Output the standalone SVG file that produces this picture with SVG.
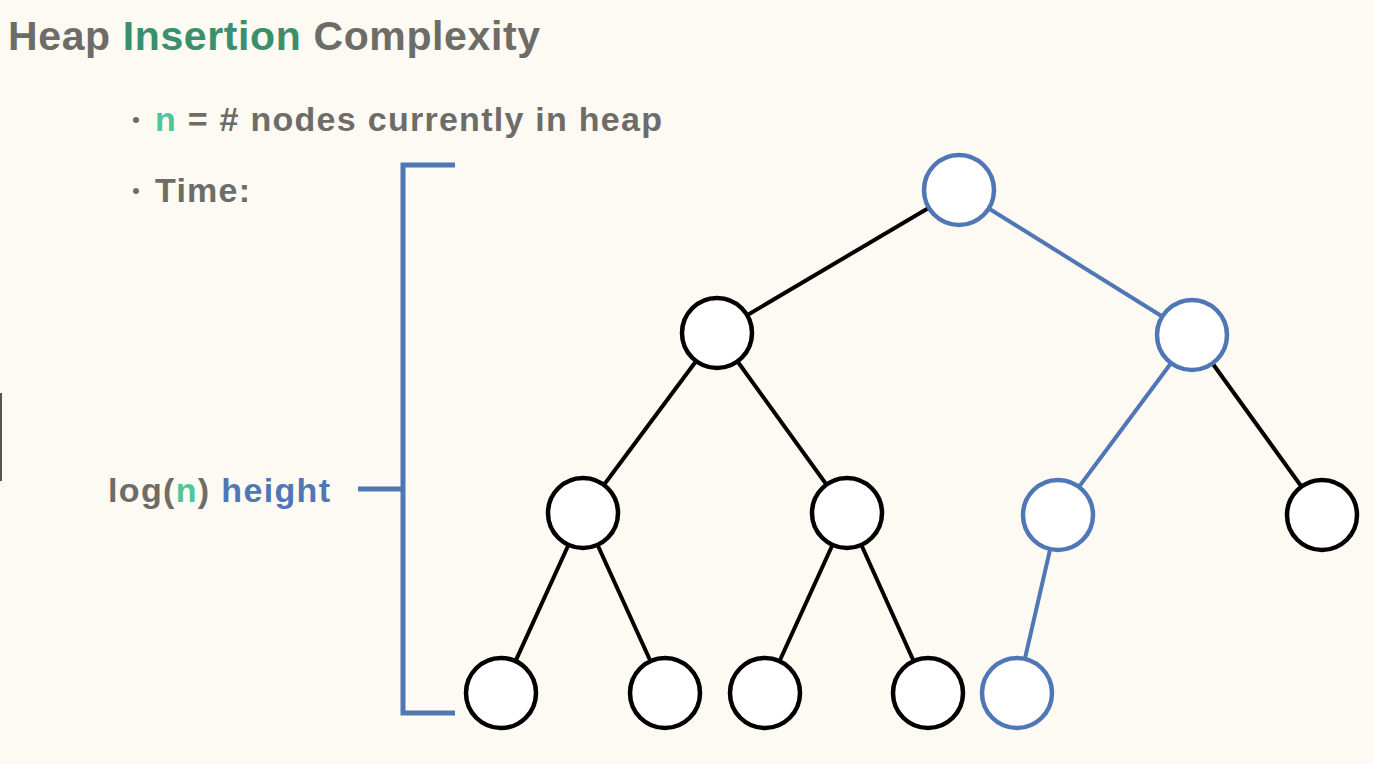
<svg xmlns="http://www.w3.org/2000/svg" width="1374" height="764" viewBox="0 0 1374 764">
<style>
.t{font-family:"Liberation Sans",Arial,sans-serif;font-weight:bold;fill:#6d6c67}
.g{fill:#3a8f6c}.lg{fill:#52c49a}.b{fill:#4f76b5}
.n{fill:#ffffff;stroke:#000;stroke-width:4.5}
.nb{fill:#ffffff;stroke:#4f76b5;stroke-width:4.5}
.e{stroke:#000;stroke-width:4;fill:none}
.eb{stroke:#4f76b5;stroke-width:4;fill:none}
</style>
<rect width="1374" height="764" fill="#fdf9f3"/>
<rect x="0" y="393" width="2" height="88" fill="#555"/>
<text class="t" x="8" y="50" font-size="41" textLength="532" lengthAdjust="spacing">Heap <tspan class="g">Insertion</tspan> Complexity</text>
<circle cx="136" cy="120" r="3" fill="#6d6c67"/>
<text class="t" x="155" y="131" font-size="34" textLength="507" lengthAdjust="spacing"><tspan class="lg">n</tspan> = # nodes currently in heap</text>
<circle cx="136" cy="191" r="3" fill="#6d6c67"/>
<text class="t" x="155" y="202" font-size="34" textLength="95" lengthAdjust="spacing">Time:</text>
<text class="t" x="108" y="502" font-size="34" textLength="222" lengthAdjust="spacing">log(<tspan class="lg">n</tspan>) <tspan class="b">height</tspan></text>
<g id="bracket" fill="none" stroke="#4f76b5" stroke-width="5">
<path d="M455 165 H403 V713 H455"/>
<path d="M358 489 H403"/>
</g>
<g id="connectors">
<line class="e" x1="959" y1="190" x2="717" y2="333"/>
<line class="eb" x1="959" y1="190" x2="1192" y2="335"/>
<line class="e" x1="717" y1="333" x2="583" y2="513"/>
<line class="e" x1="717" y1="333" x2="847" y2="513"/>
<line class="eb" x1="1192" y1="335" x2="1058" y2="515"/>
<line class="e" x1="1192" y1="335" x2="1322" y2="515"/>
<line class="e" x1="583" y1="513" x2="501" y2="693"/>
<line class="e" x1="583" y1="513" x2="665" y2="693"/>
<line class="e" x1="847" y1="513" x2="765" y2="693"/>
<line class="e" x1="847" y1="513" x2="928" y2="693"/>
<line class="eb" x1="1058" y1="515" x2="1017" y2="693"/>
</g>
<g id="root"><circle class="nb" cx="959" cy="190" r="35"/></g>
<g id="n1"><circle class="n" cx="717" cy="333" r="35"/></g>
<g id="n2"><circle class="nb" cx="1192" cy="335" r="35"/></g>
<g id="n3"><circle class="n" cx="583" cy="513" r="35"/></g>
<g id="n4"><circle class="n" cx="847" cy="513" r="35"/></g>
<g id="n5"><circle class="nb" cx="1058" cy="515" r="35"/></g>
<g id="n6"><circle class="n" cx="1322" cy="515" r="35"/></g>
<g id="n7"><circle class="n" cx="501" cy="693" r="35"/></g>
<g id="n8"><circle class="n" cx="665" cy="693" r="35"/></g>
<g id="n9"><circle class="n" cx="765" cy="693" r="35"/></g>
<g id="n10"><circle class="n" cx="928" cy="693" r="35"/></g>
<g id="n11"><circle class="nb" cx="1017" cy="693" r="35"/></g>
</svg>
